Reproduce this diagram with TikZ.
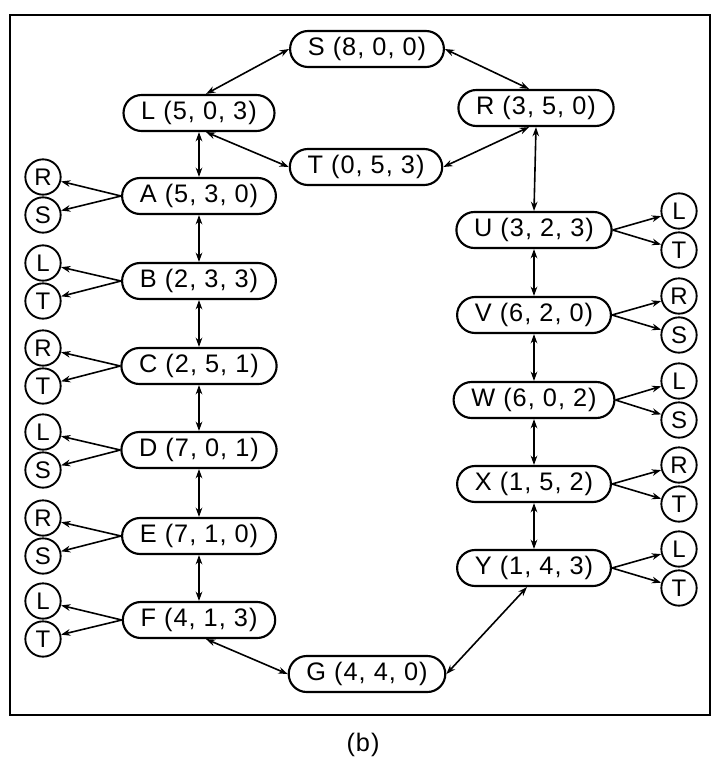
\documentclass[tikz,border=0pt]{standalone}
\usepackage{fontspec}
\setmainfont{Liberation Sans}[LetterSpace=4]
\usetikzlibrary{arrows.meta,calc,shapes.misc}
\begin{document}
\begin{tikzpicture}[x=0.75pt,y=-0.75pt,
  state/.style={draw, line width=1.6pt, rounded rectangle, minimum height=27pt,
    inner xsep=10pt, inner ysep=0pt, font=\fontsize{19}{21}\selectfont},
  sym/.style={draw, circle, line width=1.4pt, minimum size=26.5pt, inner sep=0pt,
    font=\fontsize{18}{20}\selectfont},
  link/.style={line width=1.2pt, {Stealth[length=7pt,width=5pt]}-{Stealth[length=7pt,width=5pt]}},
  outa/.style={line width=1.2pt, -{Stealth[length=7pt,width=5pt]}},
  frame/.style={line width=1.6pt}]
\useasboundingbox (0,0) rectangle (718,760);
\draw[frame] (10,15) rectangle (710,715);
% top
\node[state] (S) at (367,49) {S (8, 0, 0)};
\node[state] (L) at (199,113) {L (5, 0, 3)};
\node[state] (R) at (536,108) {R (3, 5, 0)};
\node[state] (T) at (366,167) {T (0, 5, 3)};
% left column
\node[state] (A) at (199,196) {A (5, 3, 0)};
\node[state] (B) at (199,281) {B (2, 3, 3)};
\node[state] (C) at (199,366) {C (2, 5, 1)};
\node[state] (D) at (199,450) {D (7, 0, 1)};
\node[state] (E) at (199,536) {E (7, 1, 0)};
\node[state] (F) at (199,620) {F (4, 1, 3)};
\node[state] (G) at (367,674) {G (4, 4, 0)};
% right column
\node[state] (U) at (534,230) {U (3, 2, 3)};
\node[state] (V) at (534,315) {V (6, 2, 0)};
\node[state] (W) at (534,400) {W (6, 0, 2)};
\node[state] (X) at (534,484) {X (1, 5, 2)};
\node[state] (Y) at (534,568) {Y (1, 4, 3)};
% left circles
\node[sym] (a1) at (43,177) {R};
\node[sym] (a2) at (43,215) {S};
\node[sym] (b1) at (43,263) {L};
\node[sym] (b2) at (43,301) {T};
\node[sym] (c1) at (43,348) {R};
\node[sym] (c2) at (43,386) {T};
\node[sym] (d1) at (43,432) {L};
\node[sym] (d2) at (43,470) {S};
\node[sym] (e1) at (43,518) {R};
\node[sym] (e2) at (43,556) {S};
\node[sym] (f1) at (43,601) {L};
\node[sym] (f2) at (43,639) {T};
% right circles
\node[sym] (u1) at (679,211) {L};
\node[sym] (u2) at (679,250) {T};
\node[sym] (v1) at (679,296) {R};
\node[sym] (v2) at (679,335) {S};
\node[sym] (w1) at (679,381) {L};
\node[sym] (w2) at (679,420) {S};
\node[sym] (x1) at (679,465) {R};
\node[sym] (x2) at (679,504) {T};
\node[sym] (y1) at (679,549) {L};
\node[sym] (y2) at (679,588) {T};
% caption
\node[font=\fontsize{19}{21}\selectfont] (cap) at (363,745) {(b)};
% links
\draw[link] (S.west) -- ($(L.north)+(7,0)$);
\draw[link] (S.east) -- ($(R.north)+(-7,0)$);
\draw[link] ($(L.south)+(7,0)$) -- (T.west);
\draw[link] ($(R.south)+(-7,0)$) -- (T.east);
\draw[link] (R.south) -- (U.north);
\draw[link] (L.south) -- (A.north);
\draw[link] (A.south) -- (B.north);
\draw[link] (B.south) -- (C.north);
\draw[link] (C.south) -- (D.north);
\draw[link] (D.south) -- (E.north);
\draw[link] (E.south) -- (F.north);
\draw[link] (U.south) -- (V.north);
\draw[link] (V.south) -- (W.north);
\draw[link] (W.south) -- (X.north);
\draw[link] (X.south) -- (Y.north);
\draw[link] ($(F.south)+(7,0)$) -- (G.west);
\draw[link] ($(Y.south)+(-7,0)$) -- (G.east);
% side arrows
\foreach \n/\p/\q in {A/a1/a2,B/b1/b2,C/c1/c2,D/d1/d2,E/e1/e2,F/f1/f2}{
  \draw[outa] (\n.west) -- (\p);
  \draw[outa] (\n.west) -- (\q);
}
\foreach \n/\p/\q in {U/u1/u2,V/v1/v2,W/w1/w2,X/x1/x2,Y/y1/y2}{
  \draw[outa] (\n.east) -- (\p);
  \draw[outa] (\n.east) -- (\q);
}
\end{tikzpicture}
\end{document}
